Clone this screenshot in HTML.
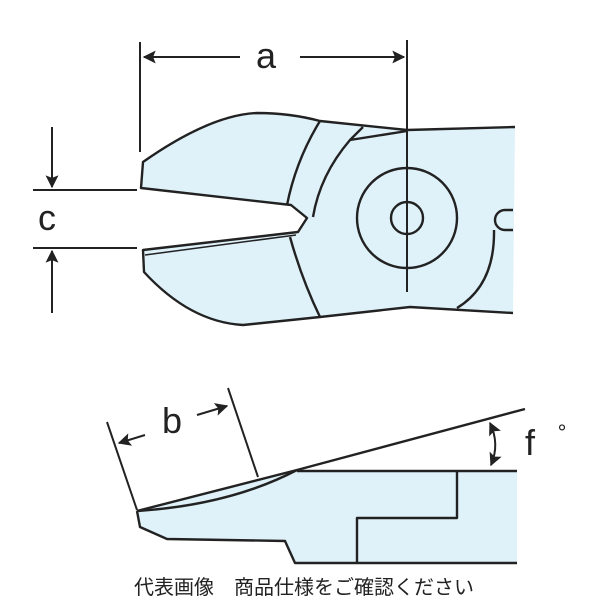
<!DOCTYPE html>
<html><head><style>body{margin:0;background:#fff}svg{display:block}</style></head><body>
<svg width="600" height="600" viewBox="0 0 600 600" xmlns="http://www.w3.org/2000/svg">
<defs><marker id="ah" viewBox="0 0 10 10" refX="9" refY="5" markerWidth="6.5" markerHeight="6.5" orient="auto-start-reverse"><path d="M0,0 L10,5 L0,10 L2,5 z" fill="#222"/></marker></defs>
<g fill="none" stroke="#222" stroke-width="2.4" stroke-linejoin="round">
<path fill="#dff1f9" d="M515,127 L407,130 L320,121 Q290,113 257,113 Q210,115 143,162 L141,188 L291,205 L307,218 L298,232 L143,250 L144,272 Q190,322 243,325 L320,317 L410,307 L513,313 Z" stroke="none"/>
<path d="M515,127 L407,130 L320,121 Q290,113 257,113 Q210,115 143,162 L141,188 L291,205 L307,218 L298,232 L143,250 L144,272 Q190,322 243,325 L320,317 L410,307 L513,313"/>
<path d="M320,121 Q296,160 287,205"/>
<path d="M363,127 L350,140 Q320,175 313,217"/>
<path d="M350,140 L407,131"/>
<path d="M290,237 Q302,280 320,317"/>
<path d="M145,255 L296,235" stroke-width="1.5"/>
<circle cx="407" cy="218" r="50"/>
<circle cx="407" cy="218" r="16"/>
<path d="M513,210 L505,210 A10,10 0 0 0 505,230 L513,230"/>
<path d="M494,230 Q495,285 457,308"/>
<path d="M407,40 L407,292" stroke-width="2"/>
<path d="M140,42 L140,152" stroke-width="2"/>
<path d="M240,57 L144,57" marker-end="url(#ah)" stroke-width="2"/>
<path d="M300,57 L404,57" marker-end="url(#ah)" stroke-width="2"/>
<path d="M33,190 L137,190 M33,248 L137,248" stroke-width="2"/>
<path d="M52,127 L52,187" marker-end="url(#ah)" stroke-width="2"/>
<path d="M52,313 L52,251" marker-end="url(#ah)" stroke-width="2"/>
<path fill="#dff1f9" stroke="none" d="M137,511 L297,471 L517,471 L517,563 L295,563 L285,541 L167,539 L140,527 Z"/>
<path d="M137,511 L297,470 L525,409"/>
<path d="M297,471 L517,471 M517,563 L295,563 L285,541 L167,539 L140,527 L137,511"/>
<path d="M137,511 Q230,505 297,470"/>
<path d="M457,472 L457,518 L357,518 L357,563"/>
<path d="M107,422 L137,510 M228,388 L258,477" stroke-width="2"/>
<path d="M145,435 L119,443" marker-end="url(#ah)" stroke-width="2"/>
<path d="M197,415 L227,406" marker-end="url(#ah)" stroke-width="2"/>
<path d="M490,423 Q500,444 491,465" marker-start="url(#ah)" marker-end="url(#ah)" stroke-width="2"/>
</g>
<g font-family="Liberation Sans, sans-serif" fill="#222">
<text x="266" y="68" font-size="36" text-anchor="middle">a</text>
<text x="47" y="230" font-size="36" text-anchor="middle">c</text>
<text x="172" y="433" font-size="36" text-anchor="middle">b</text>
<text x="530" y="455" font-size="36" text-anchor="middle">f</text>
<text x="562" y="440" font-size="22" text-anchor="middle">°</text>
<text x="304" y="594" font-size="20" text-anchor="middle" font-family="Liberation Sans, 'Noto Sans CJK JP', sans-serif">代表画像　商品仕様をご確認ください</text>
</g>
</svg>
</body></html>
